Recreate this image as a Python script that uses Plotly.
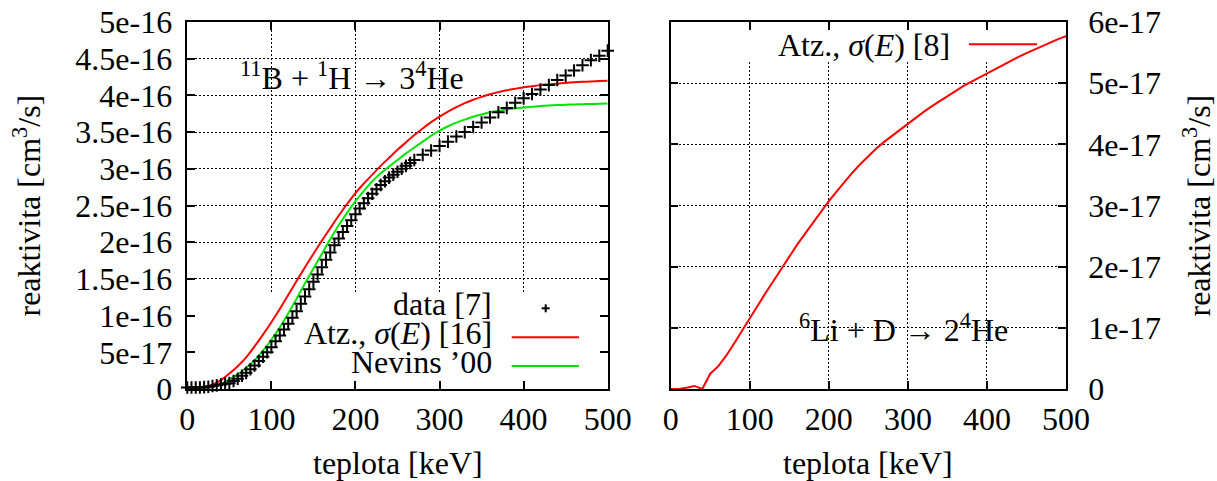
import plotly.graph_objects as go

# ---------------------------------------------------------------------------
# Reaction rates (reaktivita) vs. temperature
# ---------------------------------------------------------------------------

# 11B + p -> 3 alpha : temperature grid of the fitted curves [keV]
T_curve = list(range(0, 501, 10))

# Atzeni, sigma(E) [16]  (units of 1e-16 cm^3/s)
atz_pb11 = [0.02, 0.02, 0.03, 0.06, 0.12, 0.21, 0.31, 0.43, 0.58, 0.74,
            0.91, 1.09, 1.28, 1.47, 1.66, 1.84, 2.02, 2.19, 2.36, 2.52,
            2.67, 2.80, 2.92, 3.04, 3.15, 3.26, 3.36, 3.46, 3.55, 3.635,
            3.71, 3.78, 3.84, 3.895, 3.94, 3.98, 4.015, 4.045, 4.07, 4.09,
            4.11, 4.125, 4.14, 4.15, 4.16, 4.17, 4.178, 4.185, 4.19, 4.195,
            4.20]

# Nevins '00  (units of 1e-16 cm^3/s)
nevins_pb11 = [0.005, 0.005, 0.01, 0.03, 0.07, 0.13, 0.20, 0.29, 0.39, 0.52,
               0.67, 0.84, 1.03, 1.23, 1.44, 1.64, 1.84, 2.04, 2.23, 2.40,
               2.56, 2.70, 2.83, 2.94, 3.03, 3.12, 3.21, 3.29, 3.37, 3.45,
               3.52, 3.58, 3.63, 3.67, 3.71, 3.74, 3.77, 3.79, 3.81, 3.825,
               3.835, 3.845, 3.855, 3.862, 3.868, 3.873, 3.877, 3.88, 3.883,
               3.886, 3.888]

# tabulated data [7]
T_data = list(range(0, 271, 5)) + list(range(280, 501, 10))
data_pb11 = [0.02, 0.02, 0.02, 0.02, 0.025, 0.03, 0.04, 0.05, 0.06, 0.07,
             0.08, 0.11, 0.14, 0.18, 0.22, 0.27, 0.32, 0.38, 0.44, 0.50,
             0.57, 0.65, 0.73, 0.81, 0.89, 0.97, 1.06, 1.16, 1.26, 1.36,
             1.46, 1.56, 1.66, 1.76, 1.86, 1.96, 2.05, 2.14, 2.22, 2.30,
             2.38, 2.46, 2.53, 2.60, 2.66, 2.72, 2.78, 2.83, 2.88, 2.92,
             2.96, 3.00, 3.04, 3.08, 3.12,
             3.19, 3.25, 3.31, 3.37, 3.44, 3.50, 3.57, 3.63, 3.70, 3.77,
             3.83, 3.90, 3.96, 4.02, 4.08, 4.14, 4.21, 4.27, 4.34, 4.41,
             4.48, 4.54, 4.61]

# 6Li + D -> 2 alpha, Atzeni sigma(E) [8]  (units of 1e-17 cm^3/s)
T_li = list(range(0, 501, 10))
atz_li6d = [0.0, 0.0, 0.02, 0.05, 0.0, 0.25, 0.37, 0.54, 0.74, 0.94,
            1.15, 1.36, 1.57, 1.77, 1.97, 2.17, 2.36, 2.54, 2.72, 2.90,
            3.07, 3.23, 3.39, 3.54, 3.68, 3.81, 3.93, 4.04, 4.14, 4.24,
            4.34, 4.44, 4.53, 4.62, 4.705, 4.79, 4.87, 4.95, 5.02, 5.09,
            5.16, 5.23, 5.30, 5.37, 5.43, 5.49, 5.55, 5.61, 5.66, 5.72,
            5.77]

# tick labels
x_ticks = [0, 100, 200, 300, 400, 500]
y1_ticks = [i * 0.5e-16 for i in range(11)]
y1_text = ["0", "5e-17", "1e-16", "1.5e-16", "2e-16", "2.5e-16",
           "3e-16", "3.5e-16", "4e-16", "4.5e-16", "5e-16"]
y2_ticks = [i * 1e-17 for i in range(7)]
y2_text = ["0", "1e-17", "2e-17", "3e-17", "4e-17", "5e-17", "6e-17"]

RED = "#ff0000"
GREEN = "#00e600"
FONT = "Liberation Serif"
FS = 32

W, H = 1217, 481


def fx(p):
    return p / W


def fy(p):
    return 1 - p / H


fig = go.Figure()

fig.add_trace(go.Scatter(x=T_curve, y=[v * 1e-16 for v in atz_pb11],
                         mode="lines", line=dict(color=RED, width=2, shape="spline", smoothing=0.6),
                         xaxis="x", yaxis="y", showlegend=False))
fig.add_trace(go.Scatter(x=T_curve, y=[v * 1e-16 for v in nevins_pb11],
                         mode="lines", line=dict(color=GREEN, width=2, shape="spline", smoothing=0.6),
                         xaxis="x", yaxis="y", showlegend=False))
fig.add_trace(go.Scatter(x=T_data, y=[v * 1e-16 for v in data_pb11],
                         mode="markers", cliponaxis=False,
                         marker=dict(symbol="cross-thin", size=9,
                                     line=dict(color="black", width=2)),
                         xaxis="x", yaxis="y", showlegend=False))
fig.add_trace(go.Scatter(x=T_li, y=[v * 1e-17 for v in atz_li6d],
                         mode="lines", line=dict(color=RED, width=2),
                         xaxis="x2", yaxis="y2", showlegend=False))

tick_font = dict(family=FONT, size=FS, color="black")
axis_style = dict(showline=True, linecolor="black", linewidth=1.5,
                  mirror="ticks", ticks="inside", ticklen=8, tickwidth=1.5,
                  tickcolor="black", showgrid=True, gridcolor="black",
                  gridwidth=1, griddash="2px,2px", zeroline=False,
                  automargin=False, tickfont=tick_font)

ydom = [fy(389), fy(22)]

fig.update_layout(
    width=W, height=H,
    margin=dict(l=0, r=0, t=0, b=0),
    paper_bgcolor="white", plot_bgcolor="white",
    font=dict(family=FONT, size=FS, color="black"),
    xaxis=dict(domain=[fx(187.3), fx(607.7)], range=[0, 500], anchor="y",
               tickvals=x_ticks, ticklabelstandoff=1, **axis_style),
    yaxis=dict(domain=ydom, range=[0, 5e-16], anchor="x",
               tickvals=y1_ticks, ticktext=y1_text, ticklabelstandoff=7,
               **axis_style),
    xaxis2=dict(domain=[fx(670.7), fx(1066)], range=[0, 500], anchor="y2",
                tickvals=x_ticks, ticklabelstandoff=1, **axis_style),
    yaxis2=dict(domain=ydom, range=[0, 6e-17], anchor="x2", side="right",
                tickvals=y2_ticks, ticktext=y2_text, ticklabelstandoff=14,
                **axis_style),
)
fig.update_xaxes(tickfont=tick_font)
fig.update_yaxes(tickfont=tick_font)

# axis titles
for xc in (397.5, 868.3):
    fig.add_annotation(text="teplota [keV]", xref="paper", yref="paper",
                       x=fx(xc), y=fy(463), xanchor="center", yanchor="middle",
                       showarrow=False, font=dict(family=FONT, size=FS, color="black"))
for xc in (27, 1197):
    fig.add_annotation(text="reaktivita [cm<sup>3</sup>/s]", xref="paper", yref="paper",
                       x=fx(xc), y=fy(205.5), xanchor="center", yanchor="middle",
                       textangle=-90, showarrow=False,
                       font=dict(family=FONT, size=FS, color="black"))

# opaque key boxes hiding the grid underneath the keys
fig.add_shape(type="rect", xref="x", yref="y", x0=0, x1=500, y0=0, y1=1.31e-16,
              fillcolor="white", line=dict(width=0), layer="between")
fig.add_shape(type="rect", xref="x2", yref="y2", x0=0, x1=500,
              y0=5.376e-17, y1=6e-17,
              fillcolor="white", line=dict(width=0), layer="between")

# key of the left panel
keys_left = [("data [7]", 304), ("Atz., <i>σ</i>(<i>E</i>) [16]", 333),
             ("Nevins ’00", 362)]
for txt, yc in keys_left:
    fig.add_annotation(text=txt, xref="paper", yref="paper", x=fx(494), y=fy(yc),
                       xanchor="right", yanchor="middle", showarrow=False,
                       font=dict(family=FONT, size=FS, color="black"))
fig.add_shape(type="line", xref="paper", yref="paper",
              x0=fx(541.7), x1=fx(549.7), y0=fy(308.3), y1=fy(308.3),
              line=dict(color="black", width=2))
fig.add_shape(type="line", xref="paper", yref="paper",
              x0=fx(545.7), x1=fx(545.7), y0=fy(304.3), y1=fy(312.3),
              line=dict(color="black", width=2))
fig.add_shape(type="line", xref="paper", yref="paper",
              x0=fx(511.7), x1=fx(579), y0=fy(337.3), y1=fy(337.3),
              line=dict(color=RED, width=2))
fig.add_shape(type="line", xref="paper", yref="paper",
              x0=fx(511.7), x1=fx(579), y0=fy(366), y1=fy(366),
              line=dict(color=GREEN, width=2))

# key of the right panel
fig.add_annotation(text="Atz., <i>σ</i>(<i>E</i>) [8]", xref="paper", yref="paper",
                   x=fx(952), y=fy(45), xanchor="right", yanchor="middle",
                   showarrow=False, font=dict(family=FONT, size=FS, color="black"))
fig.add_shape(type="line", xref="paper", yref="paper",
              x0=fx(969), x1=fx(1037), y0=fy(44.3), y1=fy(44.3),
              line=dict(color=RED, width=2))

# reaction labels
fig.add_annotation(text="<sup>11</sup>B + <sup>1</sup>H → 3<sup>4</sup>He",
                   xref="paper", yref="paper", x=fx(351.5), y=fy(76),
                   xanchor="center", yanchor="middle", showarrow=False,
                   font=dict(family=FONT, size=FS, color="black"))
fig.add_annotation(text="<sup>6</sup>Li + D → 2<sup>4</sup>He",
                   xref="paper", yref="paper", x=fx(903), y=fy(328),
                   xanchor="center", yanchor="middle", showarrow=False,
                   font=dict(family=FONT, size=FS, color="black"))

fig.write_html("out.html")
